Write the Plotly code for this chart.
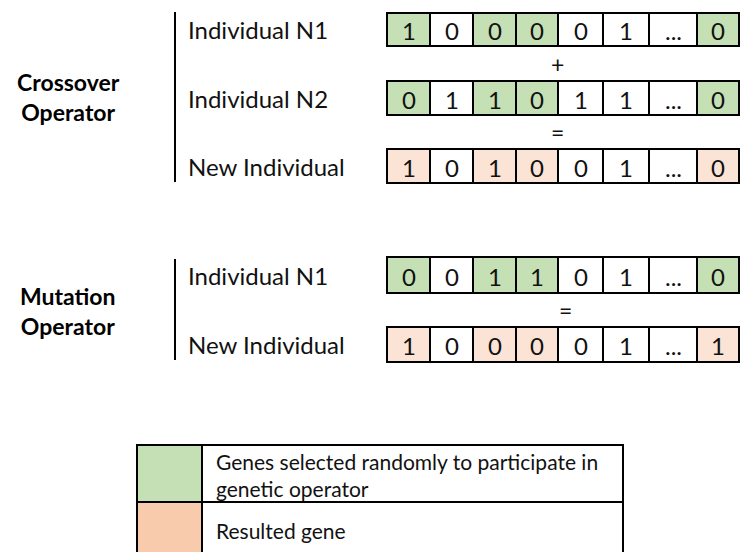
import plotly.graph_objects as go

# ---------------- data ----------------
crossover_labels = ["Individual N1", "Individual N2", "New Individual"]
crossover_genes = [
    ["1", "0", "0", "0", "0", "1", "...", "0"],
    ["0", "1", "1", "0", "1", "1", "...", "0"],
    ["1", "0", "1", "0", "0", "1", "...", "0"],
]
crossover_marks = [  # 0 = plain, 1 = selected (green), 2 = resulted (peach)
    [1, 0, 1, 1, 0, 0, 0, 1],
    [1, 0, 1, 1, 0, 0, 0, 1],
    [2, 0, 2, 2, 0, 0, 0, 2],
]
crossover_ops = ["+", "="]

mutation_labels = ["Individual N1", "New Individual"]
mutation_genes = [
    ["0", "0", "1", "1", "0", "1", "...", "0"],
    ["1", "0", "0", "0", "0", "1", "...", "1"],
]
mutation_marks = [
    [1, 0, 1, 1, 0, 0, 0, 1],
    [2, 0, 2, 2, 0, 0, 0, 2],
]
mutation_ops = ["="]

group_titles = ["Crossover<br>Operator", "Mutation<br>Operator"]
legend_texts = ["Genes selected randomly to participate in<br>genetic operator", "Resulted gene"]

# ---------------- style / layout ----------------
W, H = 741, 552
FONT = "Lato, 'Open Sans', sans-serif"
GREEN = "#C5E0B4"
PEACH_CELL = "#FBE3D5"
PEACH_LEG = "#F7CBAC"
fills = {0: "white", 1: GREEN, 2: PEACH_CELL}

cell_edges = [387, 430, 473, 516, 558, 603, 649, 697, 739]
cross_rows = [(13, 46), (81, 115), (149, 183)]
mut_rows = [(257, 293), (327, 362)]
label_x = 186
bar_x = 175

shapes = []
annotations = []


def add_block(rows, genes, marks, labels, ops, op_x, title, title_y, bar_span):
    for (y0, y1), g, m, lab in zip(rows, genes, marks, labels):
        yc = (y0 + y1) / 2
        for i, (val, mk) in enumerate(zip(g, m)):
            x0, x1 = cell_edges[i], cell_edges[i + 1]
            shapes.append(dict(type="rect", xref="x", yref="y", x0=x0, x1=x1, y0=y0, y1=y1,
                               fillcolor=fills[mk], line=dict(color="black", width=2), layer="above"))
            annotations.append(dict(x=(x0 + x1) / 2, y=yc + 1, text=val, showarrow=False,
                                    xanchor="center", yanchor="middle",
                                    font=dict(family=FONT, size=24, color="#111")))
        annotations.append(dict(x=label_x, y=yc, text=lab, showarrow=False, xanchor="left",
                                yanchor="middle", font=dict(family=FONT, size=24, color="#111")))
    for k, op in enumerate(ops):
        yb = rows[k][1]
        yt = rows[k + 1][0]
        annotations.append(dict(x=op_x, y=(yb + yt) / 2, text=op, showarrow=False,
                                xanchor="center", yanchor="middle",
                                font=dict(family=FONT, size=23, color="#111")))
    shapes.append(dict(type="line", xref="x", yref="y", x0=bar_x, x1=bar_x,
                       y0=bar_span[0], y1=bar_span[1], line=dict(color="black", width=2)))
    annotations.append(dict(x=68, y=title_y, text=title, showarrow=False, xanchor="center",
                            yanchor="middle", align="center",
                            font=dict(family=FONT, size=23, color="black", weight="bold")))


add_block(cross_rows, crossover_genes, crossover_marks, crossover_labels, crossover_ops, 557,
          group_titles[0], 97, (12, 182))
add_block(mut_rows, mutation_genes, mutation_marks, mutation_labels, mutation_ops, 565,
          group_titles[1], 311, (259, 360))

# legend table
leg_x = [137, 202, 623]
leg_y = [445, 502, 575]
leg_fill = [GREEN, PEACH_LEG]
for r in range(2):
    shapes.append(dict(type="rect", xref="x", yref="y", x0=leg_x[0], x1=leg_x[1],
                       y0=leg_y[r], y1=leg_y[r + 1], fillcolor=leg_fill[r],
                       line=dict(color="black", width=2)))
    shapes.append(dict(type="rect", xref="x", yref="y", x0=leg_x[1], x1=leg_x[2],
                       y0=leg_y[r], y1=leg_y[r + 1], fillcolor="white",
                       line=dict(color="black", width=2)))
annotations.append(dict(x=214, y=(leg_y[0] + leg_y[1]) / 2 + 1, text=legend_texts[0], showarrow=False,
                        xanchor="left", yanchor="middle", align="left",
                        font=dict(family=FONT, size=21, color="#111")))
annotations.append(dict(x=214, y=530, text=legend_texts[1], showarrow=False,
                        xanchor="left", yanchor="middle", align="left",
                        font=dict(family=FONT, size=21, color="#111")))

fig = go.Figure()
fig.update_layout(
    width=W, height=H,
    margin=dict(l=0, r=0, t=0, b=0),
    paper_bgcolor="white", plot_bgcolor="white",
    xaxis=dict(range=[0, W], visible=False, fixedrange=True),
    yaxis=dict(range=[H, 0], visible=False, fixedrange=True),
    shapes=shapes, annotations=annotations, showlegend=False,
)
# remove the default 8px page margin so figure pixels line up with the window
fig.write_html("out.html", config={"displayModeBar": False},
               post_script="document.body.style.margin='0';")
